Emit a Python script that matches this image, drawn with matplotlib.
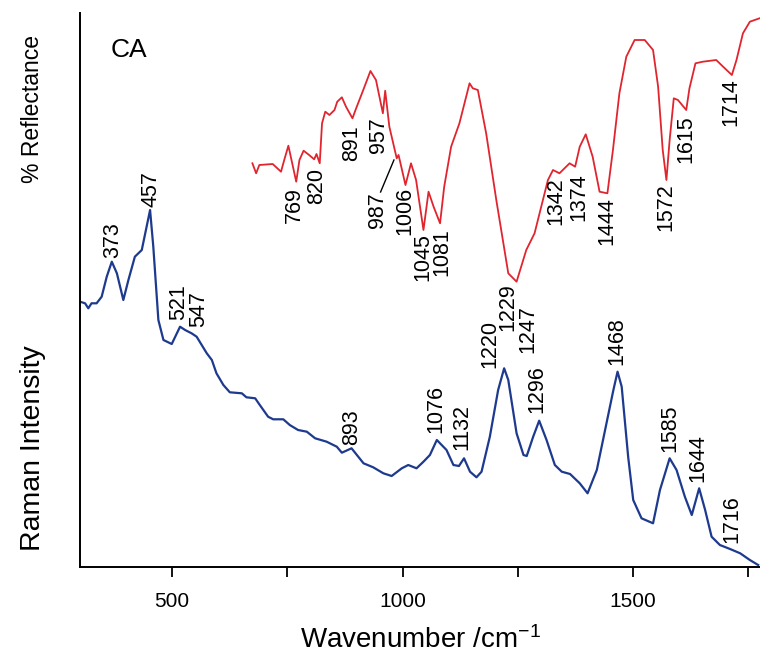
import matplotlib
matplotlib.use("Agg")
import matplotlib.pyplot as plt
from matplotlib.ticker import FixedLocator

plt.rcParams['font.family'] = ['Liberation Sans', 'DejaVu Sans']
plt.rcParams['mathtext.default'] = 'regular'

# ---------------- data (wavenumber, arbitrary intensity) ----------------
raman_wn = [300, 311, 318, 325, 336, 347, 358, 369, 380, 394, 405, 419, 434, 452, 459,
            470, 481, 499, 517, 528, 542, 553, 575, 586, 596, 611, 625, 651, 661, 680,
            690, 708, 719, 741, 755, 773, 792, 810, 835, 857, 868, 889, 915, 936, 958,
            976, 998, 1012, 1030, 1045, 1059, 1074, 1095, 1110, 1122, 1133, 1146, 1160,
            1171, 1189, 1207, 1220, 1229, 1247, 1262, 1269, 1283, 1296, 1312, 1330, 1345,
            1363, 1384, 1401, 1421, 1442, 1457, 1466, 1475, 1489, 1500, 1518, 1543, 1558,
            1579, 1594, 1612, 1627, 1643, 1656, 1670, 1688, 1710, 1732, 1753, 1771]
raman_int = [268.3, 266.7, 261.7, 266.7, 266.7, 273.3, 293.3, 308.3, 296.7, 270, 290, 313.3,
             320, 360, 323.3, 250, 230, 226, 243.3, 240, 236.7, 233.3, 216.7, 210, 196.7,
             185, 177.7, 176.7, 172.7, 171.7, 165, 153.3, 150.7, 150.7, 145, 140, 138.3,
             131.7, 128.3, 123.3, 117.3, 121.7, 106.7, 102.7, 96.7, 94, 101.7, 105, 101.7,
             108.3, 115, 130, 120, 105, 104, 111.7, 98.3, 92.7, 98.3, 133.3, 180, 201.7,
             190, 136.7, 115, 114, 133.3, 149.3, 130, 105, 98.3, 96, 86.7, 76.7, 100,
             146.7, 180, 198.3, 183.3, 113.3, 70, 51.7, 46.7, 80, 111.7, 100, 73.3, 55,
             81.7, 60, 33.3, 25, 21, 16.7, 10, 5]

refl_wn = [674, 682, 689, 718, 736, 743, 752, 769, 776, 785, 797, 808, 813, 820, 825, 832,
           841, 852, 858, 868, 877, 891, 899, 913, 930, 942, 957, 962, 971, 987, 991, 1006,
           1018, 1029, 1045, 1056, 1067, 1081, 1090, 1105, 1123, 1145, 1152, 1163, 1181,
           1203, 1229, 1247, 1268, 1286, 1315, 1326, 1340, 1362, 1374, 1384, 1397, 1412,
           1427, 1444, 1456, 1470, 1485, 1503, 1525, 1543, 1554, 1564, 1572, 1579, 1588,
           1597, 1615, 1622, 1635, 1651, 1680, 1695, 1714, 1724, 1738, 1753, 1774]
refl_val = [406.7, 396.7, 405, 406, 398.3, 410, 424.3, 388.3, 410, 419.3, 415, 410.7, 416,
            406.7, 446.7, 458.3, 455, 460, 468.3, 472.7, 463.3, 451.7, 461.7, 478.3, 499,
            490, 456.7, 479.3, 443.3, 411.7, 415, 385, 406.7, 390, 340, 378.3, 363.3, 346.7,
            383.3, 423.3, 446.7, 486.7, 481.7, 480, 436.7, 370, 296.7, 288.3, 320, 336.7,
            390, 400, 396.7, 406.7, 403.3, 423.3, 435.7, 413.3, 378.3, 376.7, 420, 476.7,
            513.3, 530, 530, 520, 483.3, 420, 390, 430, 471.7, 470, 460, 481.7, 506.7,
            508.3, 510, 503.3, 495, 510, 536.7, 548.3, 551.7]

raman_labels = ['373', '457', '521', '547', '893', '1076', '1132', '1220', '1296',
                '1468', '1585', '1644', '1716']
raman_lab_x = [370, 453, 513, 558, 890, 1072, 1129, 1190, 1291, 1465, 1580, 1641, 1714]
raman_lab_y = [312, 363, 250, 243, 125, 137, 120, 202, 157, 205, 118, 88, 27]

refl_labels = ['769', '820', '891', '957', '987', '1006', '1045', '1081', '1229', '1247',
               '1342', '1374', '1444', '1572', '1615', '1714']
refl_lab_x = [766, 814, 889, 948, 946, 1005, 1043, 1085, 1228, 1272, 1332, 1382, 1442,
              1571, 1614, 1712]
refl_lab_y = [383, 402, 445, 453, 378, 383, 337, 342, 287, 265, 393, 397, 373, 387, 455, 492]

x_major = [500, 1000, 1500]
x_minor = [750, 1250, 1750]

# ---------------- figure ----------------
W, H = 760, 656
fig = plt.figure(figsize=(W / 100, H / 100), dpi=100)
ax = fig.add_axes([80 / W, 1 - 567 / H, 680 / W, 554 / H])

blue = '#1d3a8e'
red = '#e0252f'
ax.plot(raman_wn, raman_int, color=blue, lw=1.6, solid_joinstyle='round')
ax.plot(refl_wn, refl_val, color=red, lw=1.3, solid_joinstyle='round')

for t, x, y in zip(raman_labels, raman_lab_x, raman_lab_y):
    ax.text(x, y, t, rotation=90, ha='center', va='bottom', fontsize=15.5)
for t, x, y in zip(refl_labels, refl_lab_x, refl_lab_y):
    ax.text(x, y, t, rotation=90, ha='center', va='top', fontsize=15.5)

# leader line for 987
ax.plot([981, 952], [410, 378], color='black', lw=1.0)

ax.text(0.045, 0.955, 'CA', transform=ax.transAxes, fontsize=19, ha='left', va='top')

ax.set_xlim(300, 1775)
ax.set_ylim(3, 557)
ax.xaxis.set_major_locator(FixedLocator(x_major))
ax.xaxis.set_minor_locator(FixedLocator(x_minor))
ax.set_yticks([])
ax.tick_params(axis='x', which='both', direction='out', length=7, width=1.3,
               labelsize=15, pad=11)
for s in ['top', 'right']:
    ax.spines[s].set_visible(False)
for s in ['left', 'bottom']:
    ax.spines[s].set_linewidth(1.4)

ax.set_xlabel('Wavenumber /cm$^{-1}$', fontsize=20, labelpad=11)

fig.text(33 / W, 1 - 109 / H, '% Reflectance', rotation=90, ha='center', va='center',
         fontsize=16.5)
fig.text(33 / W, 1 - 448 / H, 'Raman Intensity', rotation=90, ha='center', va='center',
         fontsize=20.5)

fig.savefig('out.png', dpi=100)
